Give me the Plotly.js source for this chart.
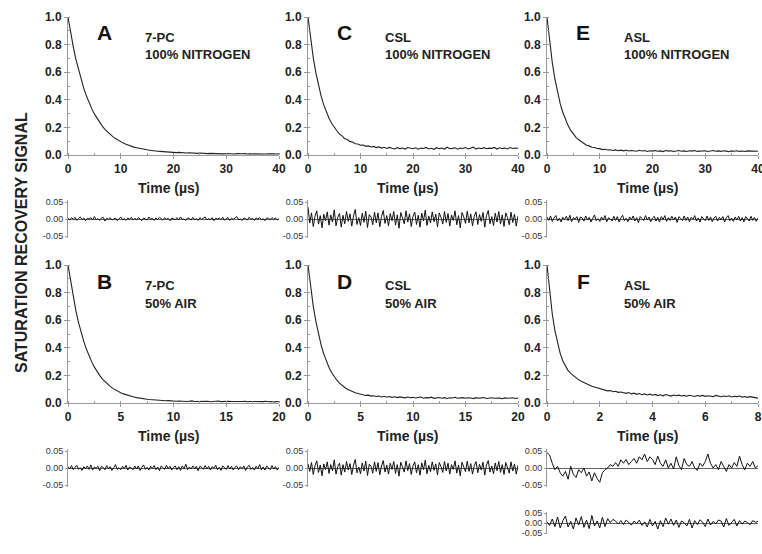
<!DOCTYPE html>
<html><head><meta charset="utf-8">
<script src="https://cdn.plot.ly/plotly-3.0.1.min.js"></script>
<style>html,body{margin:0;padding:0;background:#fff}#chart{width:762px;height:554px}</style>
</head><body><div id="chart"></div>
<script>
// ---- data ----
const sigA=[1.000,0.885,0.784,0.693,0.615,0.543,0.481,0.427,0.378,0.336,
0.298,0.265,0.235,0.209,0.186,0.166,0.148,0.133,0.119,0.106,
0.096,0.086,0.078,0.070,0.064,0.057,0.053,0.048,0.045,0.040,
0.038,0.035,0.031,0.030,0.027,0.026,0.024,0.022,0.023,0.019,
0.020,0.017,0.019,0.016,0.017,0.014,0.016,0.013,0.015,0.012,
0.014,0.011,0.013,0.010,0.012,0.011,0.009,0.012,0.010,0.008,
0.011,0.009,0.010,0.007,0.010,0.008,0.009,0.011,0.007,0.009,
0.008,0.010,0.006,0.009,0.008,0.007,0.009,0.006,0.008,0.007,
0.009];
const sigC=[1.000,0.840,0.706,0.595,0.503,0.426,0.363,0.310,0.266,0.230,
0.199,0.176,0.151,0.139,0.118,0.112,0.097,0.094,0.082,0.080,
0.071,0.072,0.063,0.066,0.058,0.062,0.054,0.059,0.050,0.056,
0.047,0.055,0.049,0.044,0.053,0.046,0.051,0.043,0.054,0.048,
0.045,0.052,0.042,0.050,0.047,0.055,0.044,0.049,0.041,0.053,
0.046,0.051,0.043,0.056,0.045,0.048,0.052,0.042,0.050,0.047,
0.054,0.044,0.049,0.057,0.043,0.051,0.046,0.053,0.045,0.050,
0.048,0.055,0.043,0.052,0.046,0.050,0.044,0.054,0.047,0.051,
0.049];
const sigE=[1.000,0.818,0.669,0.549,0.452,0.372,0.308,0.256,0.213,0.178,
0.151,0.128,0.110,0.095,0.084,0.071,0.066,0.056,0.054,0.047,
0.046,0.039,0.042,0.036,0.038,0.033,0.037,0.031,0.035,0.030,
0.034,0.029,0.033,0.030,0.027,0.034,0.029,0.032,0.026,0.031,
0.028,0.033,0.027,0.030,0.025,0.032,0.028,0.031,0.026,0.029,
0.033,0.027,0.030,0.025,0.031,0.028,0.032,0.026,0.029,0.027,
0.031,0.025,0.029,0.032,0.027,0.030,0.026,0.031,0.028,0.024,
0.030,0.027,0.031,0.026,0.029,0.025,0.030,0.028,0.026,0.029,
0.027];
const sigB=[1.000,0.878,0.765,0.668,0.583,0.509,0.445,0.389,0.340,0.298,
0.260,0.228,0.200,0.175,0.154,0.136,0.120,0.106,0.094,0.083,
0.074,0.066,0.059,0.053,0.048,0.043,0.039,0.035,0.032,0.029,
0.027,0.025,0.023,0.021,0.020,0.018,0.019,0.016,0.017,0.015,
0.016,0.013,0.015,0.012,0.014,0.011,0.013,0.015,0.011,0.012,
0.014,0.010,0.012,0.013,0.009,0.012,0.011,0.014,0.010,0.012,
0.009,0.013,0.011,0.010,0.012,0.008,0.011,0.013,0.009,0.011,
0.010,0.012,0.008,0.011,0.010,0.013,0.009,0.011,0.007,0.010,
0.009];
const sigD=[1.000,0.838,0.702,0.591,0.498,0.420,0.356,0.303,0.258,0.221,
0.191,0.165,0.144,0.126,0.112,0.100,0.090,0.081,0.075,0.069,
0.064,0.061,0.055,0.057,0.050,0.053,0.047,0.050,0.044,0.049,
0.042,0.047,0.041,0.045,0.039,0.044,0.040,0.037,0.043,0.038,
0.041,0.036,0.040,0.043,0.035,0.039,0.037,0.042,0.034,0.038,
0.040,0.035,0.039,0.033,0.038,0.036,0.041,0.034,0.037,0.039,
0.034,0.038,0.036,0.032,0.039,0.035,0.037,0.040,0.033,0.036,
0.038,0.034,0.037,0.035,0.031,0.037,0.034,0.036,0.038,0.033,
0.035];
const sigF=[1.000,0.800,0.645,0.525,0.430,0.360,0.305,0.265,0.235,0.215,
0.198,0.182,0.168,0.157,0.147,0.138,0.130,0.122,0.116,0.110,
0.104,0.097,0.095,0.088,0.090,0.082,0.085,0.077,0.080,0.073,
0.070,0.076,0.066,0.071,0.063,0.069,0.060,0.066,0.058,0.064,
0.056,0.062,0.054,0.060,0.052,0.061,0.055,0.050,0.058,0.053,
0.057,0.051,0.055,0.049,0.056,0.052,0.047,0.054,0.050,0.055,
0.048,0.053,0.050,0.046,0.055,0.049,0.045,0.051,0.047,0.052,
0.044,0.049,0.046,0.051,0.043,0.047,0.041,0.046,0.042,0.038,
0.035];

const resA=[0.002,-0.003,0.004,-0.001,0.005,-0.004,0.001,0.006,-0.002,0.003,
-0.005,0.002,0.000,0.004,-0.003,0.007,-0.002,0.001,-0.004,0.003,
0.005,-0.006,0.002,-0.001,0.004,-0.003,0.000,0.003,-0.005,0.002,
0.006,-0.002,0.001,-0.004,0.003,-0.001,0.005,-0.003,0.002,-0.002,
0.004,0.000,-0.005,0.003,0.001,-0.003,0.006,-0.001,0.002,-0.004,
0.003,-0.002,0.005,0.000,-0.003,0.004,-0.001,0.002,-0.005,0.003,
0.001,-0.002,0.004,-0.003,0.006,-0.001,0.000,-0.004,0.003,0.002,
-0.003,0.005,-0.002,0.001,-0.004,0.004,-0.001,0.002,0.006,-0.003,
0.001,-0.002,0.004,-0.005,0.002,0.000,0.003,-0.002,0.005,-0.003,
0.001,0.004,-0.004,0.002,-0.001,0.003,0.007,-0.002,0.000,-0.004,
0.003,0.001,-0.003,0.005,-0.001,0.002,-0.004,0.003,0.000,0.004,
-0.002,0.001,-0.005,0.003,0.002,-0.002,0.004,-0.001,0.003,-0.003,
0.001];
const resC=[0.035,-0.012,0.018,-0.022,0.008,0.024,-0.015,0.010,-0.026,0.014,
-0.006,0.021,-0.018,0.012,-0.009,0.027,-0.020,0.005,0.016,-0.024,
0.011,-0.014,0.022,-0.007,0.015,-0.021,0.009,0.028,-0.016,0.004,
-0.019,0.017,-0.010,0.023,-0.025,0.013,0.006,-0.017,0.020,-0.011,
0.018,-0.023,0.007,0.025,-0.013,0.010,-0.020,0.016,-0.005,0.022,
-0.018,0.012,-0.027,0.019,0.003,-0.014,0.024,-0.009,0.015,-0.022,
0.008,0.020,-0.016,0.011,-0.024,0.017,-0.006,0.026,-0.019,0.009,
-0.012,0.021,-0.008,0.014,-0.023,0.018,0.005,-0.015,0.022,-0.010,
0.016,-0.021,0.012,-0.004,0.024,-0.017,0.010,-0.026,0.019,0.006,
-0.013,0.023,-0.011,0.015,-0.020,0.008,0.021,-0.016,0.013,-0.007,
0.019,-0.024,0.010,0.025,-0.014,0.007,-0.019,0.017,-0.009,0.022,
-0.015,0.012,-0.022,0.018,0.004,-0.017,0.020,-0.010,0.014,-0.021,
0.009];
const resE=[0.006,-0.004,0.009,-0.007,0.003,0.010,-0.006,0.002,-0.009,0.005,
-0.002,0.008,-0.005,0.011,-0.008,0.004,-0.001,0.007,-0.010,0.006,
0.003,-0.006,0.009,-0.003,0.005,-0.009,0.002,0.012,-0.005,0.001,
-0.007,0.006,-0.003,0.010,-0.008,0.004,0.000,-0.006,0.008,-0.004,
0.007,-0.009,0.003,0.011,-0.005,0.002,-0.008,0.006,-0.002,0.009,
-0.006,0.004,-0.011,0.007,0.001,-0.005,0.010,-0.003,0.006,-0.008,
0.003,0.008,-0.006,0.005,-0.009,0.007,-0.002,0.010,-0.007,0.004,
-0.004,0.008,-0.003,0.006,-0.010,0.007,0.002,-0.005,0.009,-0.004,
0.006,-0.008,0.005,-0.001,0.010,-0.006,0.003,-0.009,0.007,0.002,
-0.005,0.009,-0.004,0.006,-0.008,0.003,0.008,-0.006,0.005,-0.002,
0.007,-0.009,0.004,0.010,-0.005,0.003,-0.007,0.006,-0.003,0.008,
-0.006,0.004,-0.008,0.007,0.001,-0.006,0.008,-0.004,0.005,-0.007,
0.003];
const resB=[0.004,-0.003,0.007,-0.005,0.002,0.008,-0.004,0.001,-0.007,0.004,
-0.002,0.006,-0.004,0.009,-0.006,0.003,-0.001,0.005,-0.008,0.005,
0.002,-0.005,0.007,-0.002,0.004,-0.007,0.001,0.010,-0.004,0.001,
-0.005,0.005,-0.002,0.008,-0.006,0.003,0.000,-0.005,0.006,-0.003,
0.006,-0.007,0.002,0.009,-0.004,0.002,-0.006,0.005,-0.001,0.007,
-0.005,0.003,-0.008,0.006,0.001,-0.004,0.008,-0.002,0.005,-0.006,
0.002,0.006,-0.005,0.004,-0.007,0.006,-0.002,0.011,-0.005,0.003,
-0.003,0.006,-0.002,0.005,-0.008,0.005,0.002,-0.004,0.007,-0.003,
0.005,-0.006,0.004,-0.001,0.008,-0.005,0.002,-0.007,0.006,0.001,
-0.004,0.007,-0.003,0.005,-0.006,0.002,0.006,-0.005,0.004,-0.002,
0.006,-0.007,0.003,0.008,-0.004,0.002,-0.006,0.005,-0.002,0.010,
-0.005,0.003,-0.006,0.006,0.001,-0.005,0.007,-0.003,0.004,-0.006,
0.002];
const resD=[0.012,-0.010,0.016,-0.019,0.007,0.021,-0.013,0.009,-0.023,0.012,
-0.005,0.018,-0.016,0.010,-0.008,0.024,-0.018,0.004,0.014,-0.021,
0.010,-0.012,0.019,-0.006,0.013,-0.019,0.008,0.025,-0.014,0.003,
-0.017,0.015,-0.009,0.020,-0.022,0.011,0.005,-0.015,0.018,-0.010,
0.016,-0.020,0.006,0.022,-0.012,0.009,-0.018,0.014,-0.004,0.019,
-0.016,0.010,-0.024,0.017,0.003,-0.012,0.021,-0.008,0.013,-0.019,
0.007,0.018,-0.014,0.010,-0.021,0.015,-0.005,0.023,-0.017,0.008,
-0.011,0.018,-0.007,0.012,-0.020,0.016,0.004,-0.013,0.019,-0.009,
0.014,-0.018,0.010,-0.004,0.021,-0.015,0.009,-0.023,0.017,0.005,
-0.011,0.020,-0.010,0.013,-0.018,0.007,0.019,-0.014,0.011,-0.006,
0.017,-0.021,0.009,0.022,-0.012,0.006,-0.017,0.015,-0.008,0.019,
-0.013,0.010,-0.019,0.016,0.003,-0.015,0.018,-0.009,0.012,-0.018,
0.008];
const resF1=[0.045,0.038,0.014,-0.005,0.005,-0.014,-0.024,-0.010,-0.033,0.005,
-0.019,-0.028,-0.005,-0.014,0.000,-0.024,-0.012,-0.038,-0.014,-0.031,
-0.042,-0.014,-0.005,0.000,0.010,0.005,0.016,0.005,0.024,0.014,
0.025,0.010,0.019,0.028,0.014,0.033,0.024,0.041,0.019,0.033,
0.025,0.010,0.035,0.014,0.005,0.024,0.000,0.014,-0.003,0.033,
0.007,-0.005,0.028,0.010,0.005,0.019,0.000,-0.007,0.014,0.005,
0.019,0.041,0.014,0.000,0.010,-0.005,0.019,0.005,-0.010,0.010,
0.000,0.016,0.005,0.035,0.010,-0.005,0.014,0.005,0.019,0.000,
0.007];
const resF2=[0.005,-0.012,0.020,-0.018,0.030,-0.025,0.012,0.035,-0.020,0.008,
-0.030,0.025,-0.010,0.032,-0.022,0.015,-0.028,0.038,-0.015,0.010,
-0.024,0.028,-0.018,0.022,0.002,0.018,0.010,-0.005,0.012,-0.008,
0.015,0.004,-0.010,0.010,-0.003,0.014,-0.012,0.006,-0.020,0.018,
-0.015,0.008,-0.030,0.012,-0.018,0.025,-0.006,0.020,-0.012,0.015,
-0.022,0.010,0.002,-0.015,0.018,-0.025,0.012,-0.008,0.016,0.004,
-0.018,0.020,-0.010,0.008,-0.004,0.015,0.010,-0.020,0.022,-0.012,
0.006,0.018,-0.015,0.012,-0.006,0.010,0.002,-0.008,0.012,0.004,
0.008];

const panelLetters=['A','C','E','B','D','F'];
const sampleNames=['7-PC','CSL','ASL','7-PC','CSL','ASL'];
const conditions=['100% NITROGEN','100% NITROGEN','100% NITROGEN','50% AIR','50% AIR','50% AIR'];
const timeMax=[40,40,40,20,20,8];
const timeDtick=[10,10,10,5,5,2];
const signalTicks=[0,0.2,0.4,0.6,0.8,1.0];
const signalTickText=['0.0','0.2','0.4','0.6','0.8','1.0'];
const residTicks=[-0.05,0,0.05];
const residTickText=['-0.05','0.00','0.05'];
const xTitle='Time (\u00b5s)';
const yTitle='SATURATION RECOVERY SIGNAL';

// ---- layout geometry ----
const W=762,H=554;
const FONT='Liberation Sans, Arial, Helvetica, sans-serif';
const fx=p=>p/W, fy=p=>1-p/H;
const colPx=[[68,279],[308,518],[547,758]];
const mainRowPx=[[17,155],[265,403]];
const resRowPx=[[200.3,237.7],[449.3,486.7]];
const extraResPx=[512,534];

const signals=[sigA,sigC,sigE,sigB,sigD,sigF];
const residuals=[resA,resC,resE,resB,resD,resF1];

const data=[];
const layout={width:W,height:H,margin:{l:0,r:0,t:0,b:0},paper_bgcolor:'#fff',plot_bgcolor:'#fff',
  showlegend:false,font:{family:FONT,color:'#222'},annotations:[]};
let axN=0;
function axName(n){return n===1?'':String(n);}

function addMain(i){
  const col=i%3,row=Math.floor(i/3);
  axN++;const n=axN,s=axName(n);
  const sig=signals[i];
  data.push({type:'scatter',mode:'lines',x0:0,dx:timeMax[i]/(sig.length-1),y:sig,
    line:{color:'#222',width:1.1},xaxis:'x'+s,yaxis:'y'+s,hoverinfo:'skip'});
  layout['xaxis'+s]={domain:[fx(colPx[col][0]),fx(colPx[col][1])],range:[0,timeMax[i]],anchor:'y'+s,
    showline:true,linecolor:'#9a9a9a',linewidth:1,ticks:'outside',ticklen:3,tickcolor:'#9a9a9a',
    dtick:timeDtick[i],tick0:0,showgrid:false,zeroline:false,ticklabeloverflow:'allow',
    minor:{ticks:'inside',ticklen:2,dtick:timeDtick[i]/2,tickcolor:'#9a9a9a',showgrid:false},
    tickfont:{family:FONT,size:12,color:'#222',weight:'bold'}};
  layout['yaxis'+s]={domain:[fy(mainRowPx[row][1]),fy(mainRowPx[row][0])],range:[0,1],anchor:'x'+s,
    showline:true,linecolor:'#9a9a9a',linewidth:1,ticks:'outside',ticklen:3,tickcolor:'#9a9a9a',
    tickvals:signalTicks,ticktext:signalTickText,showgrid:false,zeroline:false,ticklabeloverflow:'allow',
    minor:{ticks:'inside',ticklen:2,dtick:0.1,tickcolor:'#9a9a9a',showgrid:false},
    tickfont:{family:FONT,size:12,color:'#222',weight:'bold'}};
  const x0=colPx[col][0], top=mainRowPx[row][0], bottom=mainRowPx[row][1];
  const cx=(colPx[col][0]+colPx[col][1])/2-5;
  layout.annotations.push(
    {text:panelLetters[i],xref:'paper',yref:'paper',x:fx(x0+36),y:fy(top+16),xanchor:'center',yanchor:'middle',
     showarrow:false,font:{family:FONT,size:21,color:'#111',weight:'bold'}},
    {text:sampleNames[i],xref:'paper',yref:'paper',x:fx(x0+75),y:fy(top+20.5),xanchor:'left',yanchor:'middle',
     showarrow:false,font:{family:FONT,size:13,color:'#222',weight:'bold'}},
    {text:conditions[i],xref:'paper',yref:'paper',x:fx(x0+75),y:fy(top+38),xanchor:'left',yanchor:'middle',
     showarrow:false,font:{family:FONT,size:13,color:'#222',weight:'bold'}},
    {text:xTitle,xref:'paper',yref:'paper',x:fx(cx),y:fy(bottom+33),xanchor:'center',yanchor:'middle',
     showarrow:false,font:{family:FONT,size:14,color:'#222',weight:'bold'}});
}
function addResid(arr,col,pxRange,xmax){
  axN++;const n=axN,s=axName(n);
  data.push({type:'scatter',mode:'lines',x0:0,dx:xmax/(arr.length-1),y:arr,
    line:{color:'#111',width:1},xaxis:'x'+s,yaxis:'y'+s,hoverinfo:'skip'});
  layout['xaxis'+s]={domain:[fx(colPx[col][0]),fx(colPx[col][1])],range:[0,xmax],anchor:'y'+s,
    visible:false};
  layout['yaxis'+s]={domain:[fy(pxRange[1]),fy(pxRange[0])],range:[-0.055,0.055],anchor:'x'+s,
    showline:true,linecolor:'#9a9a9a',linewidth:1,ticks:'outside',ticklen:2,tickcolor:'#9a9a9a',
    tickvals:residTicks,ticktext:residTickText,showgrid:false,
    zeroline:true,zerolinecolor:'#666',zerolinewidth:1,
    tickfont:{family:FONT,size:9,color:'#333'}};
}
for(let i=0;i<6;i++){
  addMain(i);
  addResid(residuals[i],i%3,resRowPx[Math.floor(i/3)],timeMax[i]);
}
addResid(resF2,2,extraResPx,timeMax[5]);

layout.annotations.push({text:yTitle,xref:'paper',yref:'paper',x:fx(21),y:fy(243),textangle:-90,
  xanchor:'center',yanchor:'middle',showarrow:false,font:{family:FONT,size:16,color:'#222',weight:'bold'}});

Plotly.newPlot('chart',data,layout,{displayModeBar:false,staticPlot:true});
</script></body></html>
